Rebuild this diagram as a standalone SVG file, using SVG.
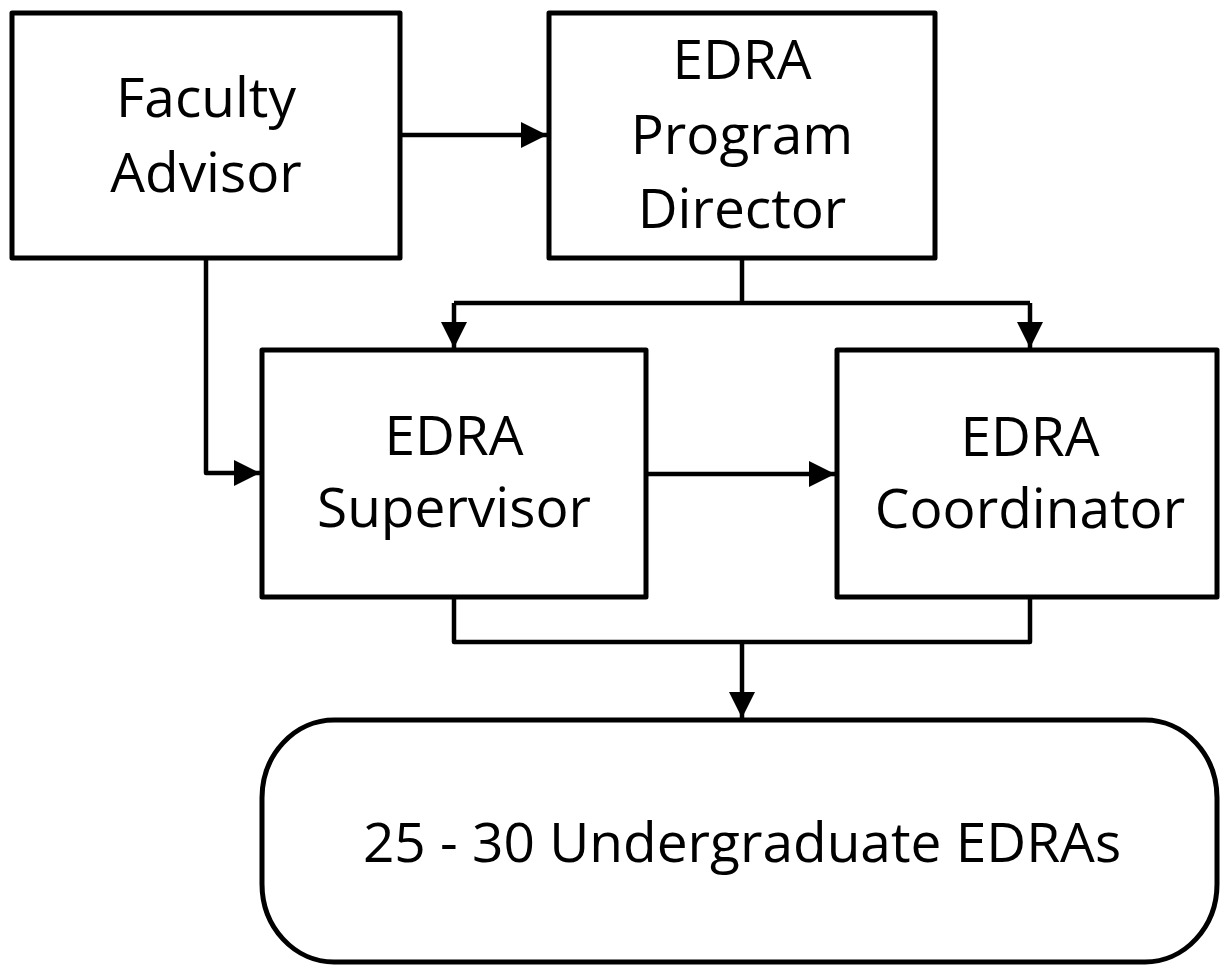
<svg xmlns="http://www.w3.org/2000/svg" width="1220" height="965" viewBox="0 0 1220 965">
<style>
.box{fill:#fff;stroke:#000;stroke-width:5;stroke-linejoin:round}
.lbl{font-family:"Open Sans","Noto Sans",sans-serif;font-size:55px;fill:#000;text-anchor:middle}
.con{fill:none;stroke:#000;stroke-width:4.5;stroke-linejoin:round}
</style>
<defs>
<marker id="ah" markerUnits="userSpaceOnUse" markerWidth="26" markerHeight="26" refX="26" refY="13" orient="auto">
<path d="M0,0 L26,13 L0,26 z" fill="#000"/>
</marker>
</defs>
<rect width="1220" height="965" fill="#fff"/>
<g id="connectors">
<path class="con" d="M400,135 H547" marker-end="url(#ah)"/>
<path class="con" d="M206,258 V473 H260" marker-end="url(#ah)"/>
<path class="con" d="M742,258 V303"/>
<path class="con" d="M454,303 H1030"/>
<path class="con" d="M454,303 V348" marker-end="url(#ah)"/>
<path class="con" d="M1030,303 V348" marker-end="url(#ah)"/>
<path class="con" d="M646,474 H835" marker-end="url(#ah)"/>
<path class="con" d="M454,597 V642 H1030 V597"/>
<path class="con" d="M742,642 V718" marker-end="url(#ah)"/>
</g>
<g id="faculty-advisor">
<rect class="box" x="12" y="13" width="388" height="245"/>
<text class="lbl" x="206" y="117">Faculty</text>
<text class="lbl" x="206" y="192">Advisor</text>
</g>
<g id="program-director">
<rect class="box" x="549" y="13" width="386" height="245"/>
<text class="lbl" x="742" y="79">EDRA</text>
<text class="lbl" x="742" y="154">Program</text>
<text class="lbl" x="742" y="228">Director</text>
</g>
<g id="supervisor">
<rect class="box" x="262" y="350" width="384" height="247"/>
<text class="lbl" x="454" y="455">EDRA</text>
<text class="lbl" x="454" y="527">Supervisor</text>
</g>
<g id="coordinator">
<rect class="box" x="837" y="350" width="380" height="247"/>
<text class="lbl" x="1030" y="456">EDRA</text>
<text class="lbl" x="1030" y="528">Coordinator</text>
</g>
<g id="undergraduates">
<rect class="box" x="262" y="720" width="955" height="242" rx="72" ry="78"/>
<text class="lbl" x="742" y="862">25 - 30 Undergraduate EDRAs</text>
</g>
</svg>
